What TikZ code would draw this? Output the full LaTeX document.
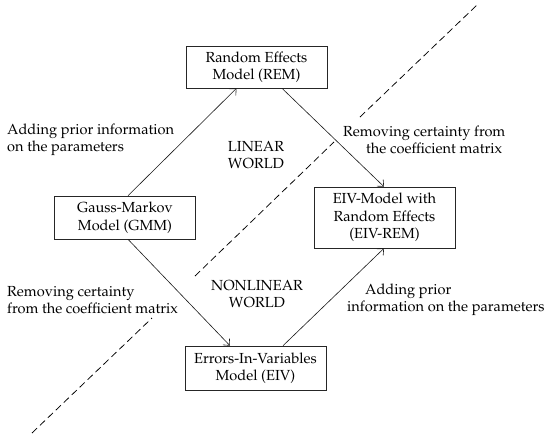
\documentclass[tikz,border=0pt]{standalone}
\usepackage[T1]{fontenc}
\usepackage{mathpazo}
\usetikzlibrary{calc,arrows.meta}
\tikzset{
  modelbox/.style={draw=black!85, line width=0.6pt, align=center, minimum width=141pt, inner sep=0pt},
  flow/.style={-{Straight Barb[length=5pt,width=9pt,line width=0.6pt]}, line width=0.6pt, black!90},
  lbl/.style={align=left, inner sep=0pt},
  world/.style={align=center, inner sep=0pt},
  divider/.style={line width=0.75pt, dash pattern=on 7pt off 4pt}
}
\begin{document}
\begin{tikzpicture}[x=1pt,y=-1pt,every node/.style={font=\fontsize{14.6}{17.5}\selectfont}]
\useasboundingbox (0,0) rectangle (550,440);
% boxes
\node[modelbox, minimum height=42pt] (REM) at (256.5,67) {Random Effects\\Model (REM)};
\node[modelbox, minimum height=43pt] (GMM) at (125,217.5) {Gauss-Markov\\Model (GMM)};
\node[modelbox, minimum height=61pt] (EIVREM) at (384.5,217.5) {EIV-Model with\\Random Effects\\(EIV-REM)};
\node[modelbox, minimum height=44pt] (EIV) at (255.5,368) {Errors-In-Variables\\Model (EIV)};
% arrows
\draw[flow] ([xshift=3pt]GMM.north) -- ([xshift=-20pt]REM.south);
\draw[flow] ([xshift=25.5pt]REM.south) -- ([xshift=-0.5pt]EIVREM.north);
\draw[flow] ([xshift=3pt]GMM.south) -- ([xshift=-25.5pt]EIV.north);
\draw[flow] ([xshift=27.5pt]EIV.north) -- ([xshift=-0.5pt]EIVREM.south);
% dividing line
\coordinate (d1) at (32,433);
\coordinate (d2) at (152,318);
\coordinate (d3) at (195,276);
\coordinate (d4) at (334,142);
\coordinate (d5) at (360,117);
\coordinate (d6) at (477,5);
\draw[divider] (d1) -- (d2);
\draw[divider] (d3) -- (d4);
\draw[divider] (d5) -- (d6);
% labels
\node[lbl, anchor=west] (l1) at (7,140) {Adding prior information\\on the parameters};
\node[world] (lin) at (256,155) {LINEAR\\WORLD};
\node[lbl, anchor=west] (l2) at (343,140) {Removing certainty from\\\hspace*{23pt}the coefficient matrix};
\node[lbl, anchor=west] (l3) at (7,300) {Removing certainty\\from the coefficient matrix};
\node[world] (nonlin) at (257,294) {NONLINEAR\\WORLD};
\node[lbl, anchor=west] (l4) at (347,300) {\hspace*{18pt}Adding prior\\information on the parameters};
\end{tikzpicture}
\end{document}
